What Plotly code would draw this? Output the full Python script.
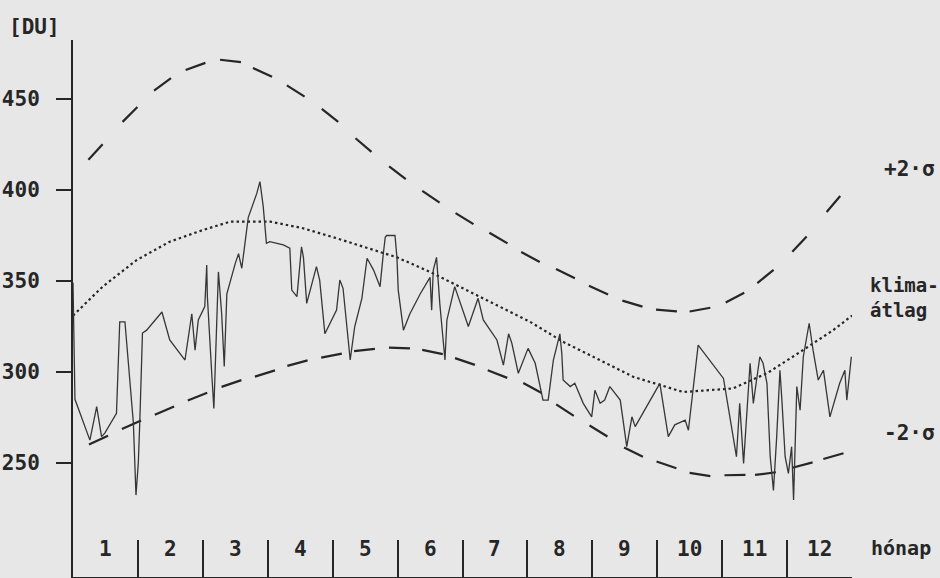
import numpy as np
import plotly.graph_objects as go

# ---------------- data (x = position in months from 1 January) ----------------
month_numbers = list(range(1, 13))
month_labels = [str(m) for m in month_numbers]
y_ticks = [250, 300, 350, 400, 450]

obs_pos = [0.00, 0.03, 0.26, 0.365, 0.44, 0.49, 0.67, 0.72, 0.80, 0.88, 0.93, 0.97, 1.006, 1.03,
           1.07, 1.135, 1.37, 1.49, 1.725, 1.83, 1.88, 1.93, 2.03, 2.06, 2.07, 2.14, 2.17, 2.24,
           2.29, 2.33, 2.37, 2.50, 2.55, 2.60, 2.70, 2.83, 2.88, 2.93, 2.98, 3.03, 3.24, 3.34,
           3.37, 3.45, 3.52, 3.55, 3.60, 3.75, 3.80, 3.88, 4.06, 4.11, 4.16, 4.27, 4.34, 4.45,
           4.53, 4.63, 4.73, 4.78, 4.81, 4.83, 4.96, 4.99, 5.01, 5.09, 5.19, 5.35, 5.45, 5.50,
           5.525, 5.55, 5.60, 5.65, 5.73, 5.76, 5.88, 5.99, 6.09, 6.24, 6.32, 6.53, 6.63, 6.71,
           6.76, 6.86, 7.01, 7.12, 7.24, 7.32, 7.40, 7.50, 7.53, 7.55, 7.66, 7.73, 7.86, 7.99,
           8.04, 8.12, 8.19, 8.27, 8.43, 8.53, 8.61, 8.66, 8.73, 9.04, 9.17, 9.27, 9.43, 9.48,
           9.63, 10.02, 10.22, 10.27, 10.33, 10.38, 10.43, 10.48, 10.53, 10.58, 10.63, 10.69,
           10.74, 10.79, 10.84, 10.89, 10.92, 10.97, 11.02, 11.07, 11.10, 11.15, 11.20, 11.25,
           11.34, 11.40, 11.48, 11.56, 11.66, 11.74, 11.81, 11.89, 11.92, 11.99]
obs_val = [349, 285, 262.6, 281, 264.5, 266.4, 277.3, 327.6, 327.6, 294, 272, 232.4, 250, 273.6,
           321.4, 323, 333, 317.6, 306.6, 332, 312, 328.6, 336, 358.8, 341.4, 297.4, 280, 355,
           332, 303, 343, 359.7, 365, 357, 385, 398, 404.6, 391, 370.7, 371.6, 369.8, 368,
           345, 341.4, 368.8, 363, 337.7, 357.9, 350.5, 321, 334, 350.5, 346, 306.6, 325, 340.5,
           362.5, 356, 346.9, 365, 374, 375, 375, 363, 345, 323, 332, 343, 348.7, 352,
           334, 356, 363, 337.7, 306.6, 328.6, 346.9, 336, 325, 340.5, 328.6, 317.6, 303.8, 321,
           315.8, 299.3, 313, 304.8, 284.6, 284.6, 306.6, 321, 310, 295.6, 292, 293.8, 282.8, 275.4,
           290, 282.8, 284.6, 292, 284.6, 259, 275.4, 270, 274.5, 293.8, 264.5, 271, 273.6, 268,
           314.8, 296.5, 253.5, 282.8, 249.8, 279, 304.8, 282.8, 295.6, 308.4, 304.8, 293.8,
           253.5, 235, 264.5, 301, 284.6, 253.5, 244.3, 259, 229.7, 292, 279, 308.4,
           326.8, 312, 295.6, 301, 275.4, 284.6, 293.8, 301, 284.6, 308.4]

mean_pos = [0.00, 0.46, 0.98, 1.49, 2.00, 2.42, 3.04, 3.54, 4.06, 4.47, 4.99, 5.50, 6.01, 6.53,
            7.04, 7.55, 8.07, 8.43, 8.63, 9.04, 9.40, 10.17, 10.69, 11.20, 11.71, 12.00]
mean_val = [331, 347, 361.5, 371.6, 378, 382.6, 382.6, 379, 373.5, 368.8, 363, 355, 346, 336.8,
            327.6, 316.6, 307.5, 301, 297.4, 292.9, 289, 291, 299.3, 311, 323, 331]

upper_pos = [0.347, 0.878, 1.379, 1.887, 2.426, 2.919, 3.431, 3.959, 4.475, 4.998, 5.514, 6.031,
             6.554, 7.047, 7.586, 8.095, 8.618, 9.142, 9.658, 10.197, 10.667, 11.191, 11.714]
upper_val = [420.9, 441.5, 458, 467.9, 470.9, 464.6, 454.4, 441, 424.7, 409.5, 396.3, 384.3,
             373.6, 363.2, 354.1, 345, 337.6, 333.8, 334.3, 340.9, 352.5, 370.3, 392.3]

lower_pos = [0.393, 0.901, 1.409, 1.918, 2.441, 2.957, 3.458, 3.982, 4.490, 5.029, 5.538, 6.038,
             6.539, 7.078, 7.579, 8.095, 8.634, 9.142, 9.658, 10.197, 10.667, 11.237, 11.714]
lower_val = [262.6, 271, 278.8, 286.5, 293.7, 299.2, 304.9, 309, 312.1, 313.2, 311, 305.8,
             298.9, 291.2, 279.1, 267.6, 256, 249, 243.7, 243.4, 244.2, 248.9, 253.8]

# ---------------- layout constants ----------------
W, H = 940, 578
ML, MR, MT, MB = 73, 88, 40, 1
X_RANGE = [0, 12]
Y_RANGE = [187.4, 482.4]
px_per_x = (W - ML - MR) / (X_RANGE[1] - X_RANGE[0])
px_per_y = (H - MT - MB) / (Y_RANGE[1] - Y_RANGE[0])

INK = "#262626"
FONT = "DejaVu Sans Mono"
BG = "#e7e7e7"


def dash_angles(pos, val):
    p = np.asarray(pos) * px_per_x
    v = np.asarray(val) * px_per_y
    slope = np.gradient(v, p)
    return list(-np.degrees(np.arctan(slope)))


fig = go.Figure()

fig.add_trace(go.Scatter(x=mean_pos, y=mean_val, mode="lines",
                         line=dict(color=INK, width=2.2, dash="2.5px,3px"),
                         hoverinfo="skip", showlegend=False))

for pos, val in ((upper_pos, upper_val), (lower_pos, lower_val)):
    fig.add_trace(go.Scatter(x=pos, y=val, mode="markers",
                             marker=dict(symbol="line-ew", size=15, angle=dash_angles(pos, val),
                                         line=dict(color=INK, width=2.2)),
                             hoverinfo="skip", showlegend=False))

fig.add_trace(go.Scatter(x=obs_pos, y=obs_val, mode="lines",
                         line=dict(color="#363636", width=1.3),
                         hoverinfo="skip", showlegend=False))

fig.update_layout(
    width=W, height=H,
    margin=dict(l=ML, r=MR, t=MT, b=MB, pad=0),
    paper_bgcolor=BG, plot_bgcolor=BG,
    font=dict(family=FONT, size=21, color=INK, weight="bold"),
    xaxis=dict(range=X_RANGE, showgrid=False, zeroline=False, showline=True,
               linecolor=INK, linewidth=2, tickmode="array", tickvals=month_numbers,
               ticks="inside", ticklen=37, tickwidth=1.5, tickcolor=INK,
               showticklabels=False, automargin=False),
    yaxis=dict(range=Y_RANGE, showgrid=False, zeroline=False, showline=True,
               linecolor=INK, linewidth=2, tickmode="array", tickvals=y_ticks,
               ticks="outside", ticklen=15, tickwidth=2, tickcolor=INK,
               ticklabelstandoff=12,
               tickfont=dict(family=FONT, size=21, color=INK, weight="bold"),
               automargin=False),
)

annotations = []
for i, lab in enumerate(month_labels):
    annotations.append(dict(x=month_numbers[i] - 0.5, y=0.052, xref="x", yref="paper",
                            text=lab, showarrow=False, xanchor="center", yanchor="middle"))

side_texts = ["[DU]", "+2·σ", "klima-<br>átlag", "-2·σ", "hónap"]
side_x = [-0.085, 1.0385, 1.0205, 1.0385, 1.0218]
side_y = [1.024, 0.760, 0.5196, 0.268, 0.054]
side_size = [21, 21, 19, 21, 20]
for t, x, y, s in zip(side_texts, side_x, side_y, side_size):
    annotations.append(dict(x=x, y=y, xref="paper", yref="paper", text=t, showarrow=False,
                            xanchor="left", yanchor="middle", align="left",
                            font=dict(family=FONT, size=s, color=INK, weight="bold")))

fig.update_layout(annotations=annotations)

fig.write_html("out.html",
               config={"displayModeBar": False},
               post_script="document.body.style.margin='0';"
                           "document.body.style.background='" + BG + "';")
